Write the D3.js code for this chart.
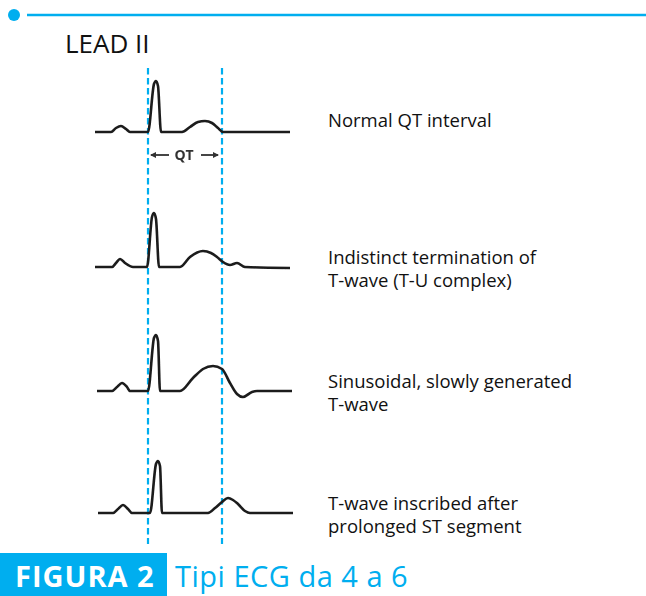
<!DOCTYPE html>
<html>
<head>
<meta charset="utf-8">
<script src="https://cdn.jsdelivr.net/npm/d3@7"></script>
<style>
  body { margin: 0; background: #fff; }
  svg { display: block; font-family: "Open Sans", "DejaVu Sans", sans-serif; }
</style>
</head>
<body>
<div id="chart-area"></div>
<script>
// ECG traces, [time unit, amplitude] pairs
var rows = ["normal", "indistinct", "sinusoidal", "prolonged"];

var normalTrace = [[0,0],[16,0],[21,0.08],[26,0.12],[31,0.06],[35,0],[53,0],[59,0.96],[61,1.02],[63,0.92],[66,0],
  [87,0],[95,0.1],[103,0.2],[110,0.22],[117,0.18],[123,0.08],[128,0],[195,0]];
var indistinctTrace = [[0,0],[17,0],[21,0.08],[25,0.16],[30,0.08],[38,0],[52,0],[57,1.0],[59,1.08],[61,0.96],[64,0],
  [85,0],[95,0.2],[108,0.32],[116,0.28],[122,0.2],[128,0.1],[135,0.04],[142,0.08],[150,0],[195,-0.02]];
var sinusoidalTrace = [[2,0],[17,0],[22,0.08],[27,0.16],[32,0.08],[35,0],[53,0],[59,1.06],[61,1.12],[63,1.0],[65,0],
  [85,0],[98,0.26],[108,0.44],[118,0.5],[127,0.44],[135,0.16],[142,-0.06],[148,-0.12],[157,-0.02],[162,0],[197,0]];
var prolongedTrace = [[3,0],[18,0],[23,0.08],[28,0.16],[33,0.08],[37,0],[55,0],[61,0.98],[63,1.04],[65,0.94],[67,0],
  [113,0],[120,0.1],[127,0.22],[133,0.3],[138,0.26],[143,0.18],[150,0.04],[155,0],[198,0]];

var traces = [normalTrace, indistinctTrace, sinusoidalTrace, prolongedTrace];

var labels = [
  ["Normal QT interval"],
  ["Indistinct termination of", "T-wave (T-U complex)"],
  ["Sinusoidal, slowly generated", "T-wave"],
  ["T-wave inscribed after", "prolonged ST segment"]
];

var qtMarks = [53, 127];   // start / end of normal QT
var title = "LEAD II";
var figNumber = "FIGURA 2";
var figTitle = "Tipi ECG da 4 a 6";

var blue = "#00aeef";
var W = 646, H = 596;

var svg = d3.select("#chart-area")
    .append("svg")
    .attr("width", W)
    .attr("height", H);

var defs = svg.append("defs");
defs.append("filter").attr("id", "soft")
    .append("feGaussianBlur").attr("stdDeviation", 0.45);

// scales
var x = d3.scaleLinear().domain([0, 200]).range([95, 295]);
var amp = d3.scaleLinear().domain([0, 1]).range([0, -50]);
var rowY = d3.scaleOrdinal().domain(rows).range([132, 267, 391, 513]);

// top rule
svg.append("circle").attr("cx", 14).attr("cy", 15).attr("r", 6).attr("fill", blue);
svg.append("line")
    .attr("x1", 27).attr("x2", W)
    .attr("y1", 15).attr("y2", 15)
    .attr("stroke", blue).attr("stroke-width", 2.5);

svg.append("text")
    .attr("x", 65).attr("y", 53)
    .attr("font-size", "26px")
    .attr("fill", "#111")
    .text(title);

// dashed QT markers
svg.selectAll(".qt-line")
    .data(qtMarks)
    .enter()
    .append("line")
    .attr("class", "qt-line")
    .attr("x1", d => x(d)).attr("x2", d => x(d))
    .attr("y1", 68).attr("y2", 544)
    .attr("stroke", blue)
    .attr("stroke-width", 2.2)
    .attr("stroke-dasharray", "6.5,3.5");

// traces
var line = d3.line()
    .x(d => x(d[0]))
    .y(d => amp(d[1]))
    .curve(d3.curveMonotoneX);

var rowGroups = svg.selectAll(".row")
    .data(rows)
    .enter()
    .append("g")
    .attr("class", "row")
    .attr("transform", d => "translate(0," + rowY(d) + ")");

rowGroups.append("path")
    .attr("d", (d, i) => line(traces[i]))
    .attr("fill", "none")
    .attr("stroke", "#1c1c1c")
    .attr("stroke-width", 2.6)
    .attr("stroke-linejoin", "round")
    .attr("filter", "url(#soft)");

rowGroups.append("text")
    .attr("x", 328)
    .attr("y", (d, i) => labels[i].length == 1 ? -5 : -3)
    .attr("font-size", "18.5px")
    .attr("fill", "#111")
    .selectAll("tspan")
    .data((d, i) => labels[i])
    .enter()
    .append("tspan")
    .attr("x", 328)
    .attr("dy", (d, j) => j == 0 ? 0 : 23)
    .text(d => d);

// QT arrow annotation under the first trace
var qtG = svg.append("g")
    .attr("transform", "translate(0," + (rowY("normal") + 23) + ")")
    .attr("fill", "#333").attr("stroke", "#333")
    .attr("filter", "url(#soft)");
var mid = (x(qtMarks[0]) + x(qtMarks[1])) / 2;
qtG.append("line").attr("x1", x(qtMarks[0]) + 3).attr("x2", mid - 16).attr("y1", 0).attr("y2", 0).attr("stroke-width", 1.8);
qtG.append("path").attr("d", d3.line()([[x(qtMarks[0]) + 2, 0], [x(qtMarks[0]) + 8, -3], [x(qtMarks[0]) + 8, 3]])).attr("stroke", "none");
qtG.append("line").attr("x1", mid + 16).attr("x2", x(qtMarks[1]) - 4).attr("y1", 0).attr("y2", 0).attr("stroke-width", 1.8);
qtG.append("path").attr("d", d3.line()([[x(qtMarks[1]) - 3, 0], [x(qtMarks[1]) - 9, -3], [x(qtMarks[1]) - 9, 3]])).attr("stroke", "none");
qtG.append("text")
    .attr("x", mid - 1).attr("y", 5)
    .attr("text-anchor", "middle")
    .attr("font-size", "14px")
    .attr("font-weight", "bold")
    .attr("stroke", "none")
    .text("QT");

// caption
svg.append("rect")
    .attr("x", 0).attr("y", 553)
    .attr("width", 167).attr("height", H - 553)
    .attr("fill", blue);
svg.append("text")
    .attr("x", 15).attr("y", 587)
    .attr("font-size", "29px")
    .attr("font-weight", "bold")
    .attr("letter-spacing", "1px")
    .attr("fill", "#fff")
    .text(figNumber);
svg.append("text")
    .attr("x", 175).attr("y", 587)
    .attr("font-size", "29px")
    .attr("letter-spacing", "0.5px")
    .attr("fill", blue)
    .text(figTitle);
</script>
</body>
</html>
